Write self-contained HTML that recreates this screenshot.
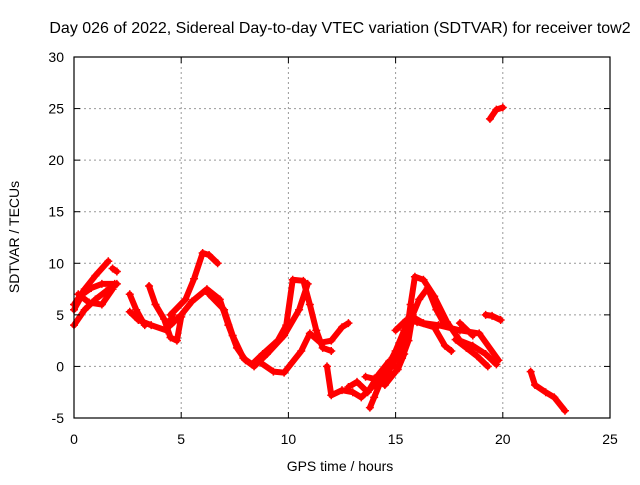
<!DOCTYPE html>
<html><head><meta charset="utf-8"><style>
body{margin:0;background:#fff;}
svg text{font-family:"Liberation Sans",sans-serif;font-size:14px;fill:#000;}
</style></head><body>
<svg id="chart" width="640" height="480" xmlns="http://www.w3.org/2000/svg">
<text x="340" y="33" text-anchor="middle" style="font-size:16px">Day 026 of 2022, Sidereal Day-to-day VTEC variation (SDTVAR) for receiver tow2</text>
<text x="340" y="471" text-anchor="middle">GPS time / hours</text>
<text transform="translate(19,237) rotate(-90)" text-anchor="middle">SDTVAR / TECUs</text>
<g id="grid"></g><g id="series"></g><g id="axes"></g>
</svg>
<script>
const xTicks=[0,5,10,15,20,25];
const yTicks=[-5,0,5,10,15,20,25,30];
const trace1=[[0,6],[0.5,7.5],[1,8.8],[1.6,10.2]];
const trace2=[[0,5.5],[0.4,7],[0.8,7.6],[1.3,8],[1.9,8]];
const trace3=[[0,4],[0.5,5.5],[1,6.5],[1.5,7.3],[2,8]];
const trace4=[[0.2,7],[0.7,6.2],[1.3,6],[1.8,7.5]];
const trace5=[[1.8,9.5],[2,9.2]];
const trace6=[[2.6,7],[2.9,5.5],[3.3,4]];
const trace7=[[3.5,7.8],[3.8,6],[4.2,4.6],[4.5,2.8],[4.8,2.5],[5,4.8]];
const trace8=[[2.6,5.3],[3,4.5],[3.6,4],[4.3,3.5],[4.6,5]];
const trace9=[[4.5,5],[5.2,6.5],[5.6,8.5],[6,11],[6.3,10.8],[6.7,10]];
const trace10=[[4.5,4],[5,5],[5.5,6.3],[6.2,7.5],[6.8,6.5],[7.2,4],[7.6,1.8],[8,0.6],[8.4,0],[9,1.2],[9.8,3],[10.5,5.5],[10.9,8]];
const trace11=[[6.3,7],[7,5.5],[7.4,3],[7.9,0.8],[8.3,0.2],[8.8,1.2],[9.5,2.5],[9.9,4],[10.2,8.4],[10.7,8.3],[11,6],[11.3,3.5],[11.6,1.8],[12,1.5]];
const trace12=[[8.6,0.5],[9.3,-0.5],[9.8,-0.6],[10.6,1.5],[11,3.2],[11.5,2.3],[12,2.5],[12.5,3.8],[12.8,4.2]];
const trace13=[[11.8,0],[12,-2.8],[12.5,-2.3],[13,-2.5],[13.4,-3],[13.9,-2],[14.4,-1.5],[14.8,0],[15.2,1.5],[15.5,3],[15.7,6],[15.9,8.7],[16.3,8.4],[16.8,6.8],[17.4,4.3],[18,2.5],[18.6,2],[19.2,1.2],[19.7,0.2]];
const trace14=[[13.6,-1],[14,-1.2],[14.5,-1.8],[15,-0.5],[15.3,0.8],[15.6,2.5],[15.8,5],[16.1,6.5],[16.5,7.6],[16.9,5.5],[17.3,4]];
const trace15=[[13.8,-4],[14,-3],[14.5,-0.5],[15,1.5],[15.4,3.5],[15.8,4.8],[16.3,4.2],[17,4],[18,3.5],[18.9,3.2],[19.8,0.6]];
const trace16=[[15,3.5],[15.5,4.5],[16,4.3],[16.8,3.8],[17.3,2],[17.6,1.5]];
const trace17=[[17.8,2.6],[18.3,1.8],[18.8,1],[19.3,0]];
const trace18=[[18,4.2],[18.6,3]];
const trace19=[[19.2,5],[19.5,4.9],[19.9,4.5]];
const trace20=[[21.3,-0.5],[21.5,-1.8],[22,-2.5],[22.4,-3],[22.9,-4.3]];
const trace21=[[19.4,24],[19.7,24.9],[20,25.1]];
const trace22=[[12.8,-2],[13.2,-1.5],[13.7,-2.5],[14.2,-0.8],[14.7,0.5],[15.1,-0.3],[15.4,1.2]];
const traces=[trace1,trace2,trace3,trace4,trace5,trace6,trace7,trace8,trace9,trace10,trace11,trace12,trace13,trace14,trace15,trace16,trace17,trace18,trace19,trace20,trace21,trace22];
const L=74,R=610,T=57,B=418;
function sx(v){return L+(v-0)/(25-0)*(R-L);}
function sy(v){return B-(v+5)/(35)*(B-T);}
const NS="http://www.w3.org/2000/svg";
const grid=document.getElementById('grid'),axes=document.getElementById('axes'),ser=document.getElementById('series');
function mk(tag,at,p){const e=document.createElementNS(NS,tag);for(const k in at)e.setAttribute(k,at[k]);p.appendChild(e);return e;}
xTicks.forEach(t=>{
 if(t>0&&t<25){const g=mk('line',{x1:sx(t),x2:sx(t),y1:T,y2:B,stroke:'#999','stroke-dasharray':'2,3'},grid);
 
 }
 mk('line',{x1:sx(t),x2:sx(t),y1:B,y2:B-6,stroke:'#000'},axes);
 mk('line',{x1:sx(t),x2:sx(t),y1:T,y2:T+6,stroke:'#000'},axes);
 const tx=mk('text',{x:sx(t),y:B+26,'text-anchor':'middle'},axes);tx.textContent=t;
 
 
});
yTicks.forEach(t=>{
 if(t>-5&&t<30){const g=mk('line',{x1:L,x2:R,y1:sy(t),y2:sy(t),stroke:'#999','stroke-dasharray':'2,3'},grid);
 
 }
 mk('line',{x1:L,x2:L+6,y1:sy(t),y2:sy(t),stroke:'#000'},axes);
 mk('line',{x1:R,x2:R-6,y1:sy(t),y2:sy(t),stroke:'#000'},axes);
 const tx=mk('text',{x:L-10,y:sy(t)+5,'text-anchor':'end'},axes);tx.textContent=t;
 
 
});
const fr=mk('rect',{x:L,y:T,width:R-L,height:B-T,fill:'none',stroke:'#000','stroke-width':1.2},axes);


traces.forEach(tr=>{
 const p=mk('polyline',{points:tr.map(d=>sx(d[0])+','+sy(d[1])).join(' '),fill:'none',stroke:'#f00','stroke-width':6,'stroke-linejoin':'round','stroke-linecap':'round'},ser);
 
 
 tr.forEach(d=>{
  const c=mk('path',{d:`M${sx(d[0])-4},${sy(d[1])}h8M${sx(d[0])},${sy(d[1])-4}v8`,stroke:'#f00','stroke-width':1.5},ser);
  
  
 });
});
</script>
</body></html>
